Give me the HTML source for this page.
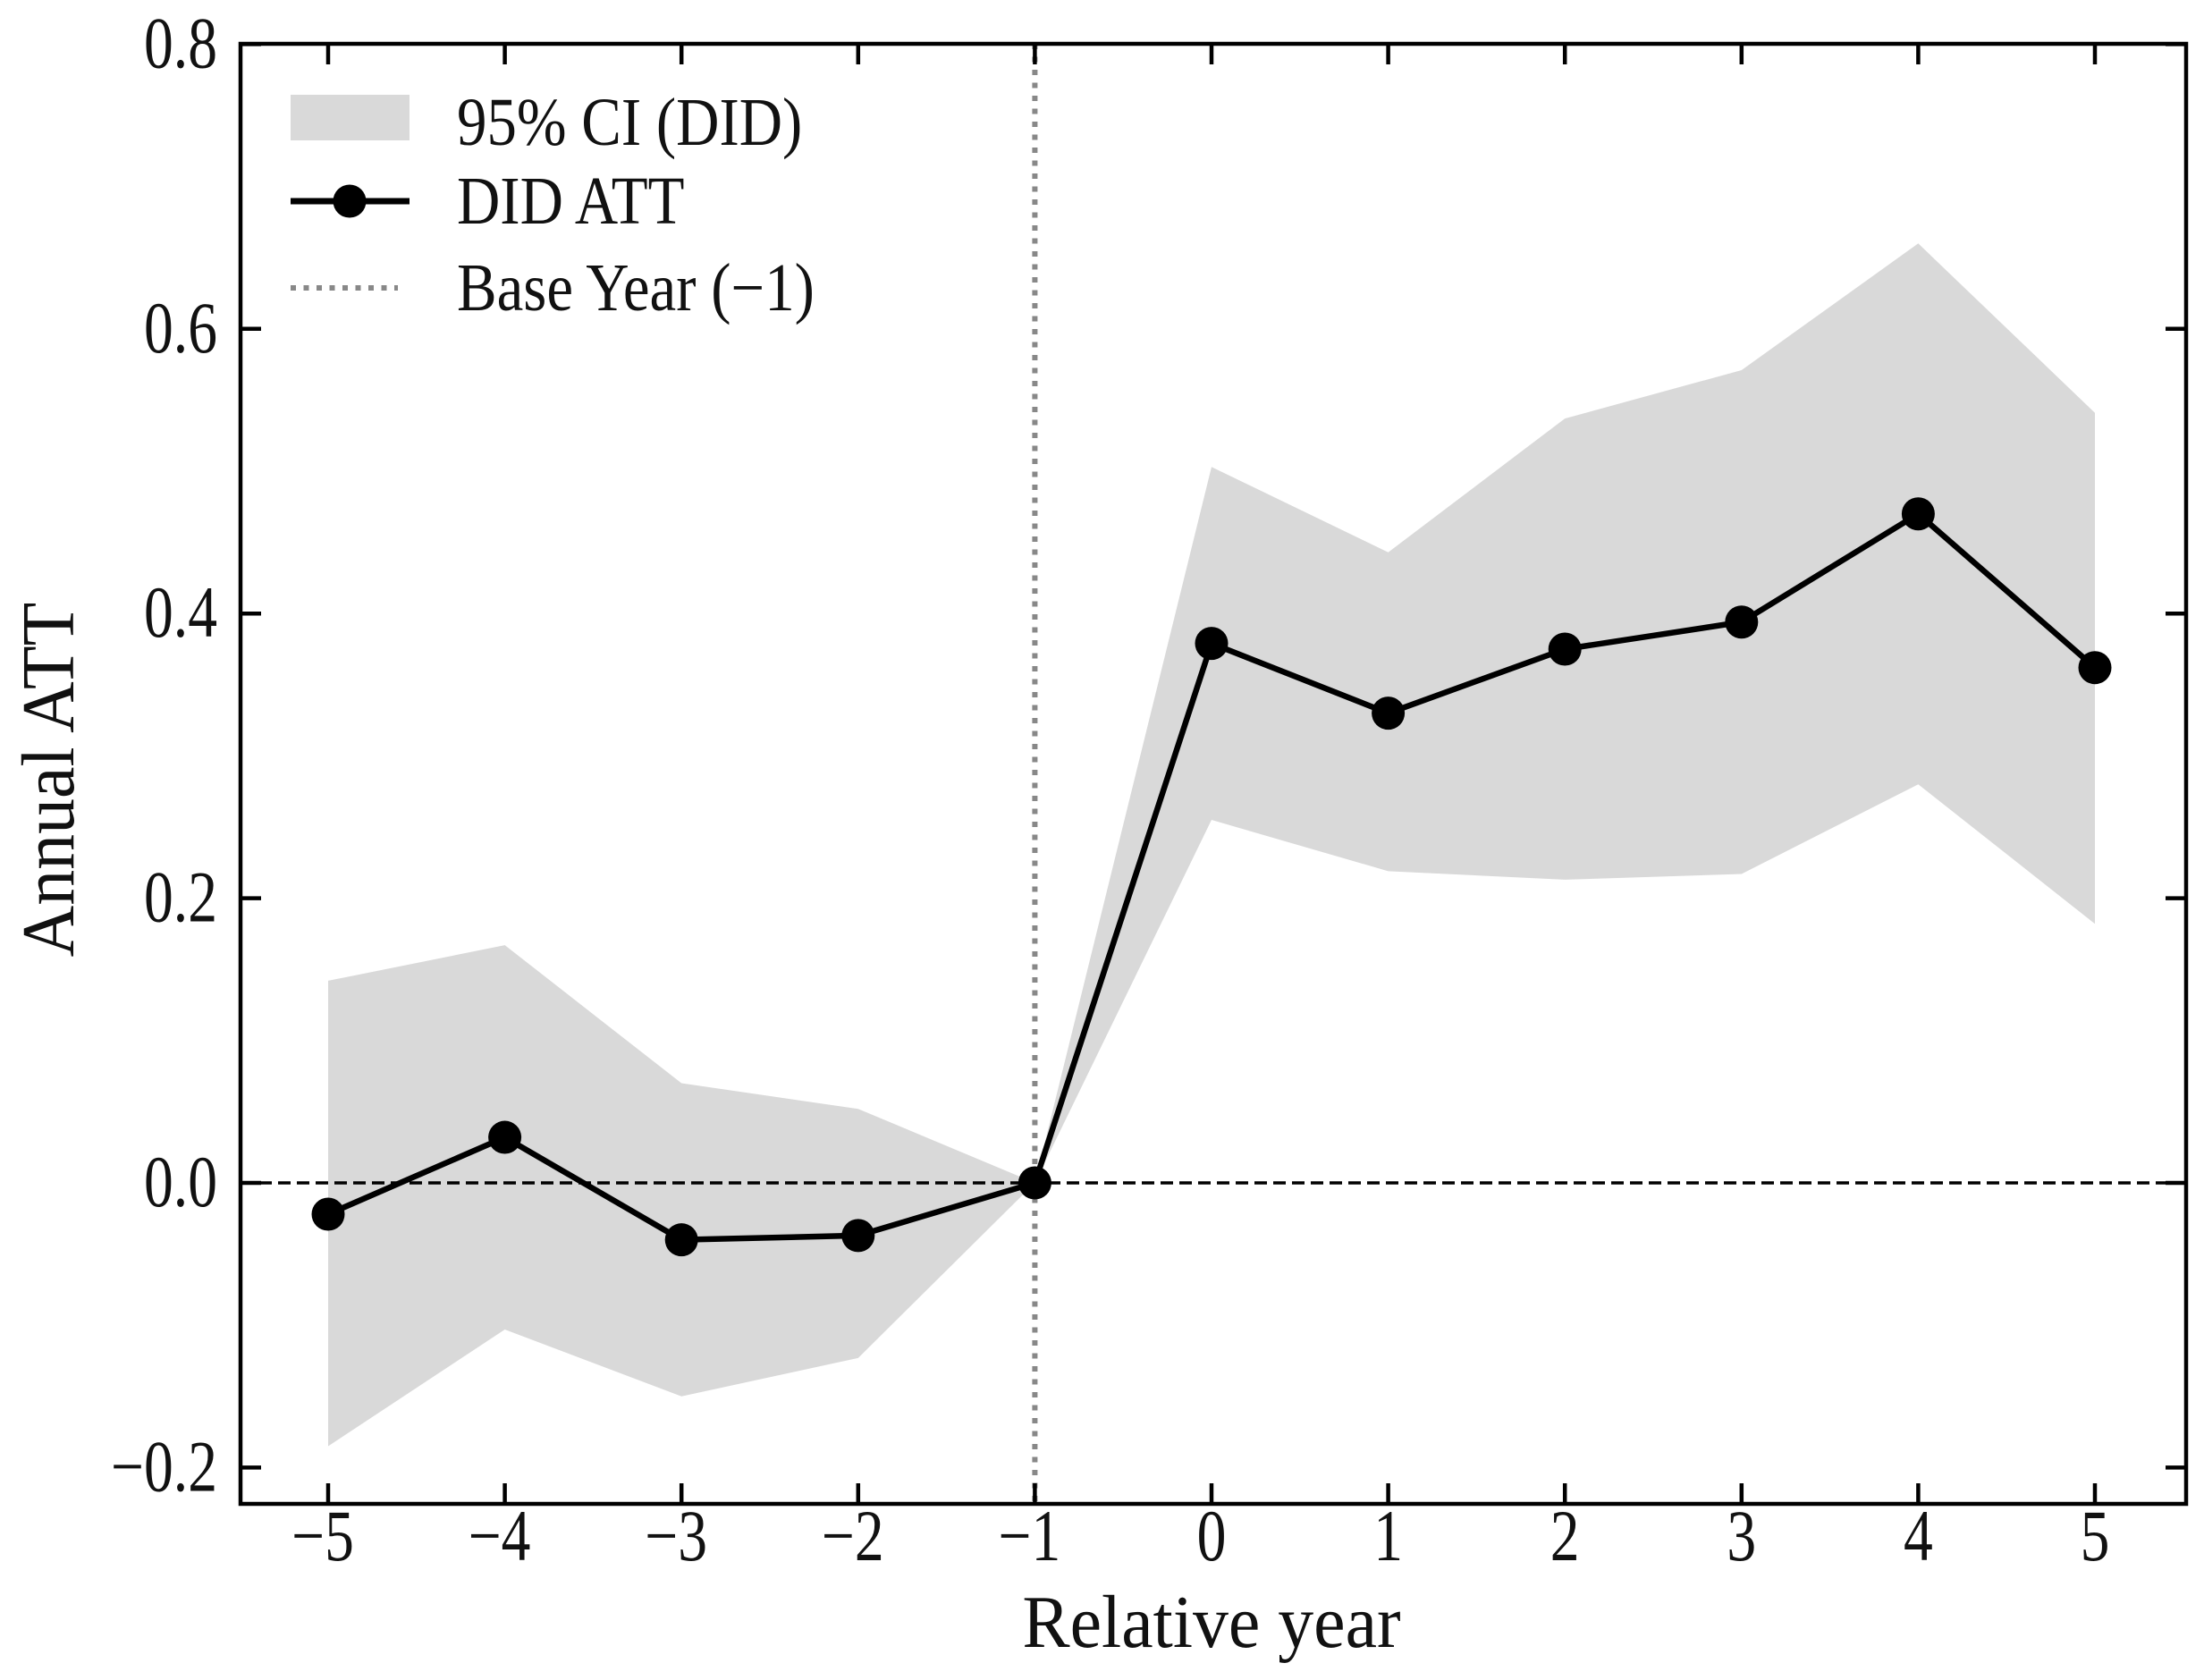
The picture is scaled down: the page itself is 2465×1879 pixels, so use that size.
<!DOCTYPE html>
<html><head><meta charset="utf-8"><style>
html,body{margin:0;padding:0;background:#fff}
svg{display:block}
text{font-family:"Liberation Serif","DejaVu Serif",serif;fill:#111}
</style></head><body>
<svg id="chart" width="2465" height="1879" viewBox="0 0 2465 1879" xmlns="http://www.w3.org/2000/svg">
<g id="plot"></g>
</svg>
<script>
const years = [-5,-4,-3,-2,-1,0,1,2,3,4,5];
const att = [-0.022,0.032,-0.04,-0.037,0,0.379,0.33,0.375,0.394,0.47,0.362];
const ciUpper = [0.142,0.167,0.07,0.052,0,0.503,0.443,0.537,0.571,0.66,0.541];
const ciLower = [-0.185,-0.103,-0.15,-0.123,0,0.255,0.219,0.213,0.217,0.28,0.182];
const yTicks = [-0.2,0.0,0.2,0.4,0.6,0.8];
const yTickLabels = ["\u22120.2","0.0","0.2","0.4","0.6","0.8"];
const xTickLabels = ["\u22125","\u22124","\u22123","\u22122","\u22121","0","1","2","3","4","5"];
const baseYear = -1;

const NS="http://www.w3.org/2000/svg";
const L=269,R=2445,T=49,B=1682;
function xs(v){return 367+(v+5)*197.6;}
function ys(v){return 1323-v*1592;}
const g=document.getElementById('plot');
function mk(tag,attrs,parent){const e=document.createElementNS(NS,tag);for(const k in attrs)e.setAttribute(k,attrs[k]);(parent||g).appendChild(e);return e;}
function squeeze(t,f){const w=t.getComputedTextLength();t.setAttribute('textLength',w*f);t.setAttribute('lengthAdjust','spacingAndGlyphs');}

// CI band
let pts=years.map((y,i)=>xs(y)+","+ys(ciUpper[i]));
for(let i=years.length-1;i>=0;i--)pts.push(xs(years[i])+","+ys(ciLower[i]));
const band=mk('polygon',{points:pts.join(' '),fill:'#d9d9d9',stroke:'none'});



// zero line
const zl=mk('line',{x1:L,x2:R,y1:ys(0),y2:ys(0),stroke:'#000','stroke-width':3.5,'stroke-dasharray':'14 7'});



// base year line
const bl=mk('line',{x1:xs(baseYear),x2:xs(baseYear),y1:T,y2:B,stroke:'#888','stroke-width':6,'stroke-dasharray':'6 8.5'});



// ATT line
const line=mk('polyline',{points:years.map((y,i)=>xs(y)+","+ys(att[i])).join(' '),fill:'none',stroke:'#000','stroke-width':6.5,'stroke-linejoin':'round'});


years.forEach((y,i)=>{
  const c=mk('circle',{cx:xs(y),cy:ys(att[i]),r:18.5,fill:'#000'});
  
  
});

// frame
const fr=mk('rect',{x:L,y:T,width:R-L,height:B-T,fill:'none',stroke:'#000','stroke-width':4.5});



// y ticks
yTicks.forEach((v,i)=>{
  mk('line',{x1:L,x2:L+23,y1:ys(v),y2:ys(v),stroke:'#000','stroke-width':4.5});
  mk('line',{x1:R,x2:R-23,y1:ys(v),y2:ys(v),stroke:'#000','stroke-width':4.5});
  const t=mk('text',{x:243,y:ys(v)+26,'text-anchor':'end','font-size':82});
  t.textContent=yTickLabels[i];
  
  
  squeeze(t,0.8);
});
// x ticks
years.forEach((v,i)=>{
  mk('line',{x1:xs(v),x2:xs(v),y1:B,y2:B-23,stroke:'#000','stroke-width':4.5});
  mk('line',{x1:xs(v),x2:xs(v),y1:T,y2:T+23,stroke:'#000','stroke-width':4.5});
  const t=mk('text',{x:xs(v)+(xTickLabels[i].length>1?-6:0),y:1745,'text-anchor':'middle','font-size':82});
  t.textContent=xTickLabels[i];
  
  
  squeeze(t,0.8);
});

// axis titles
const xt=mk('text',{x:1355,y:1842,'text-anchor':'middle','font-size':84});
xt.textContent='Relative year';


squeeze(xt,0.95);
const yt=mk('text',{x:0,y:0,'text-anchor':'middle','font-size':84,transform:'translate(82,872) rotate(-90)'});
yt.textContent='Annual ATT';


squeeze(yt,0.95);

// legend
const lg=mk('g',{});


const p1=mk('rect',{x:325,y:106,width:133,height:51,fill:'#d9d9d9'},lg);


const t1=mk('text',{x:511,y:162,'font-size':76},lg);t1.textContent='95% CI (DID)';


squeeze(t1,0.88);
mk('line',{x1:325,x2:458,y1:225,y2:225,stroke:'#000','stroke-width':7},lg);
mk('circle',{cx:391,cy:225,r:18.5,fill:'#000'},lg);
const t2=mk('text',{x:511,y:250,'font-size':76},lg);t2.textContent='DID ATT';


squeeze(t2,0.88);
mk('line',{x1:325,x2:445,y1:322,y2:322,stroke:'#888','stroke-width':6,'stroke-dasharray':'6 8.5'},lg);
const t3=mk('text',{x:511,y:347,'font-size':76},lg);t3.textContent='Base Year (\u22121)';


squeeze(t3,0.88);
</script>
</body></html>
